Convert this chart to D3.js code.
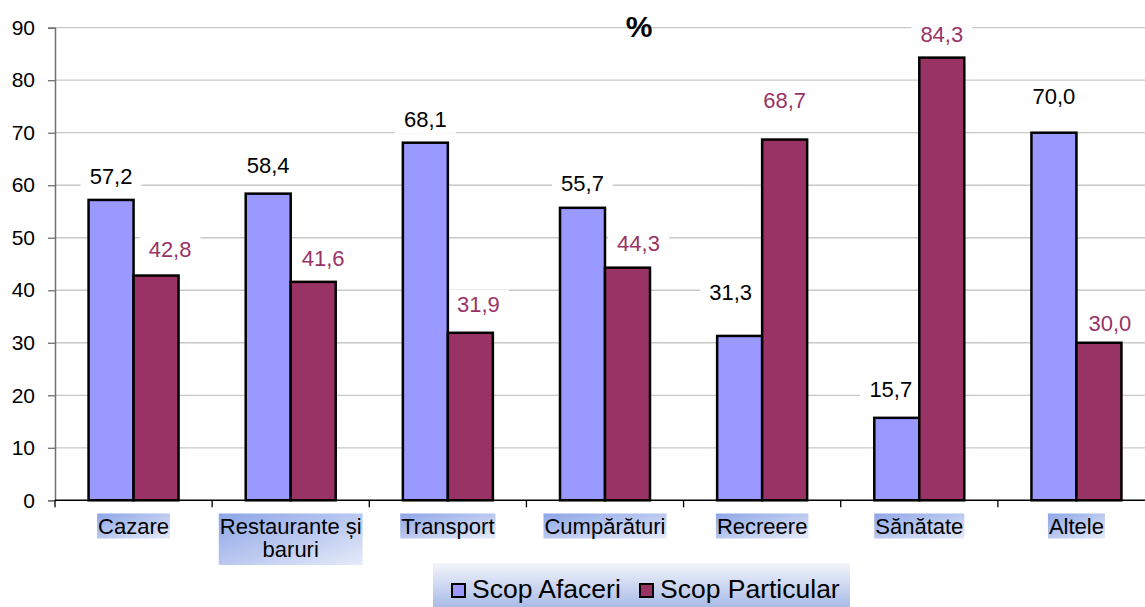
<!DOCTYPE html>
<html>
<head>
<meta charset="utf-8">
<script src="https://cdn.jsdelivr.net/npm/d3@7"></script>
<style>
  body { margin: 0; background: #fff; }
  svg { display: block; font-family: "Liberation Sans", Arial, sans-serif; }
</style>
</head>
<body>
<svg id="chart" width="1145" height="607"></svg>
<script>
// categorii si valori (%)
const categories = ["Cazare", "Restaurante și baruri", "Transport", "Cumpărături", "Recreere", "Sănătate", "Altele"];
const seriesNames = ["Scop Afaceri", "Scop Particular"];
const afaceri = [57.2, 58.4, 68.1, 55.7, 31.3, 15.7, 70.0];
const particular = [42.8, 41.6, 31.9, 44.3, 68.7, 84.3, 30.0];
const yTicks = [0, 10, 20, 30, 40, 50, 60, 70, 80, 90];

// layout: mic decalaj al etichetelor de valoare [dx, dy] fata de pozitia implicita
const labelNudge = [
  [[0, 0], [14, -2]],
  [[0, -5], [10, 0]],
  [[0, 0], [8, -5]],
  [[0, -1], [11, -1]],
  [[-9, -20], [0, -15]],
  [[-6, -5], [0, 0]],
  [[0, -13], [11, 4]]
];

const colors = ["#9999ff", "#993366"];
const labelColors = ["#000000", "#993366"];

const svg = d3.select("#chart");
const W = 1145;

const y = d3.scaleLinear().domain([0, 90]).range([500.3, 27.7]);
const x0 = d3.scaleBand().domain(categories).range([55, 1155])
  .paddingInner(0.4273).paddingOuter(0.2136);
const x1 = d3.scaleBand().domain(seriesNames).range([0, x0.bandwidth()]);

const defs = svg.append("defs");
const gCat = defs.append("linearGradient").attr("id", "catGrad")
  .attr("x1", "0").attr("y1", "0").attr("x2", "1").attr("y2", "1");
gCat.append("stop").attr("offset", "0").attr("stop-color", "#8da5e7");
gCat.append("stop").attr("offset", "1").attr("stop-color", "#e6ebf9");
const gLeg = defs.append("linearGradient").attr("id", "legGrad")
  .attr("x1", "0").attr("y1", "0").attr("x2", "0").attr("y2", "1");
gLeg.append("stop").attr("offset", "0").attr("stop-color", "#f3f5fc");
gLeg.append("stop").attr("offset", "1").attr("stop-color", "#a9bbe6");

// grila
svg.append("g").selectAll("line").data(yTicks.filter(d => d > 0)).join("line")
  .attr("x1", 55).attr("x2", W)
  .attr("y1", d => y(d)).attr("y2", d => y(d))
  .attr("stroke", "#c8c8c8").attr("stroke-width", 1.3);

// axa y
const yAxis = svg.append("g").attr("transform", "translate(55,0)")
  .call(d3.axisLeft(y).tickValues(yTicks).tickSize(7).tickPadding(13));
yAxis.select(".domain").attr("stroke", "#707070").attr("stroke-width", 1.5);
yAxis.selectAll(".tick line").attr("stroke", "#707070").attr("stroke-width", 1.3);
yAxis.selectAll(".tick text").attr("font-size", 21).attr("fill", "#000")
  .attr("font-family", "Liberation Sans, Arial, sans-serif");

// titlu
svg.append("text").attr("x", 639).attr("y", 37).attr("text-anchor", "middle")
  .attr("font-size", 30).attr("font-weight", "bold").text("%");

// fundaluri etichete (sub bare), bare, apoi textul etichetelor
const labelBg = svg.append("g");
const barLayer = svg.append("g");
const labelLayer = svg.append("g");

const rows = categories.map((c, i) => ({ cat: c, i, vals: [afaceri[i], particular[i]] }));
const groups = barLayer.selectAll("g").data(rows).join("g")
  .attr("transform", d => `translate(${x0(d.cat)},0)`);

groups.selectAll("rect").data(d => d.vals.map((v, s) => ({ v, s }))).join("rect")
  .attr("x", d => x1(seriesNames[d.s]))
  .attr("y", d => y(d.v))
  .attr("width", x1.bandwidth())
  .attr("height", d => y(0) - y(d.v))
  .attr("fill", d => colors[d.s])
  .attr("stroke", "#000").attr("stroke-width", 2.5);

// axa x
svg.append("line").attr("x1", 55).attr("x2", W).attr("y1", y(0)).attr("y2", y(0))
  .attr("stroke", "#000").attr("stroke-width", 1.5);
svg.append("g").selectAll("line").data(d3.range(categories.length + 1)).join("line")
  .attr("x1", i => 55 + i * x0.step()).attr("x2", i => 55 + i * x0.step())
  .attr("y1", y(0)).attr("y2", y(0) + 7)
  .attr("stroke", "#000").attr("stroke-width", 1.3);

// etichete valori
rows.forEach(r => {
  r.vals.forEach((v, s) => {
    const cx = x0(r.cat) + x1(seriesNames[s]) + x1.bandwidth() / 2 + labelNudge[r.i][s][0];
    const cy = y(v) - 24 + labelNudge[r.i][s][1];
    const t = labelLayer.append("text")
      .attr("x", cx).attr("y", cy).attr("dy", "0.36em")
      .attr("text-anchor", "middle").attr("font-size", 22)
      .attr("fill", labelColors[s])
      .text(d3.format(".1f")(v).replace(".", ","));
    const b = t.node().getBBox();
    labelBg.append("rect")
      .attr("x", b.x - 9).attr("y", b.y - 2)
      .attr("width", b.width + 18).attr("height", b.height + 4)
      .attr("fill", "#fff");
  });
});

// etichete categorii
const catLines = { "Restaurante și baruri": ["Restaurante și", "baruri"] };
const catLayer = svg.append("g");
categories.forEach(c => {
  const cx = x0(c) + x0.bandwidth() / 2;
  const lines = catLines[c] || [c];
  const g = catLayer.append("g");
  const t = g.append("text").attr("text-anchor", "middle").attr("font-size", 22).attr("fill", "#000");
  lines.forEach((ln, k) => {
    t.append("tspan").attr("x", cx).attr("y", 534 + k * 23).text(ln);
  });
  const b = t.node().getBBox();
  g.insert("rect", "text")
    .attr("x", b.x - 1).attr("y", 513.5)
    .attr("width", b.width + 2).attr("height", 25 + (lines.length - 1) * 26.5)
    .attr("fill", "url(#catGrad)");
});

// legenda
const leg = svg.append("g");
leg.append("rect").attr("x", 433).attr("y", 563).attr("width", 417).attr("height", 44)
  .attr("fill", "url(#legGrad)");
const legX = [452, 640];
seriesNames.forEach((n, s) => {
  leg.append("rect").attr("x", legX[s]).attr("y", 584).attr("width", 13).attr("height", 13)
    .attr("fill", colors[s]).attr("stroke", "#000").attr("stroke-width", 2);
  leg.append("text").attr("x", legX[s] + 20).attr("y", 598).attr("font-size", 26.5)
    .attr("fill", "#000").text(n);
});
</script>
</body>
</html>
